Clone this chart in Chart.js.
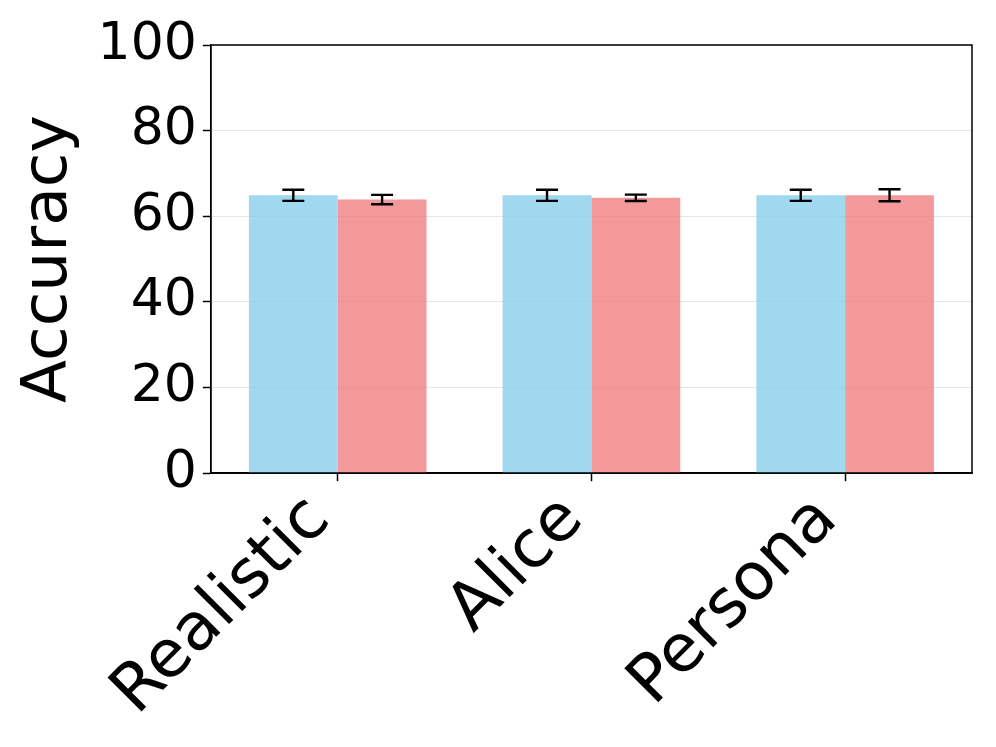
<!DOCTYPE html>
<html>
<head>
<meta charset="utf-8">
<script src="https://cdn.jsdelivr.net/npm/chart.js@4"></script>
<style>
  html, body { margin: 0; padding: 0; background: #fff; }
  #wrap { width: 996px; height: 747px; }
</style>
</head>
<body>
<div id="wrap"><canvas id="acc"></canvas></div>
<script>
const categories = ['Realistic', 'Alice', 'Persona'];
const blueValues = [64.9, 64.9, 64.9];
const blueErrors = [1.3, 1.3, 1.3];
const redValues = [63.9, 64.3, 64.9];
const redErrors = [1.1, 0.75, 1.4];
const yTicks = [0, 20, 40, 60, 80, 100];

const FONT = 'DejaVu Sans';

const errorBars = {
  id: 'errorBars',
  afterDatasetsDraw(chart) {
    const ctx = chart.ctx;
    const y = chart.scales.y;
    ctx.save();
    ctx.strokeStyle = '#000';
    ctx.lineWidth = 2.4;
    chart.data.datasets.forEach((ds, di) => {
      const meta = chart.getDatasetMeta(di);
      meta.data.forEach((bar, i) => {
        const v = ds.data[i], e = ds.errors[i];
        const top = y.getPixelForValue(v + e);
        const bot = y.getPixelForValue(v - e);
        const cap = 11;
        ctx.beginPath();
        ctx.moveTo(bar.x, top); ctx.lineTo(bar.x, bot);
        ctx.moveTo(bar.x - cap, top); ctx.lineTo(bar.x + cap, top);
        ctx.moveTo(bar.x - cap, bot); ctx.lineTo(bar.x + cap, bot);
        ctx.stroke();
      });
    });
    ctx.restore();
  }
};

const frame = {
  id: 'frame',
  afterDraw(chart) {
    const { ctx, chartArea: a } = chart;
    ctx.save();
    ctx.strokeStyle = '#000';
    ctx.lineWidth = 1.5;
    ctx.strokeRect(a.left, a.top, a.right - a.left, a.bottom - a.top);
    ctx.restore();
  }
};

new Chart(document.getElementById('acc'), {
  type: 'bar',
  data: {
    labels: categories,
    datasets: [{
      data: blueValues,
      errors: blueErrors,
      backgroundColor: 'rgba(135,206,235,0.8)',
      categoryPercentage: 0.7,
      barPercentage: 1.0
    }, {
      data: redValues,
      errors: redErrors,
      backgroundColor: 'rgba(240,128,128,0.8)',
      categoryPercentage: 0.7,
      barPercentage: 1.0
    }]
  },
  options: {
    responsive: true,
    maintainAspectRatio: false,
    animation: false,
    layout: { padding: { top: 45, right: 24, left: 8, bottom: 15 } },
    plugins: { legend: { display: false }, tooltip: { enabled: false } },
    scales: {
      x: {
        grid: { display: true, drawOnChartArea: false, offset: false, tickLength: 8, tickColor: '#000', tickWidth: 1.5 },
        border: { display: true, color: '#000', width: 1.5 },
        ticks: {
          maxRotation: 45, minRotation: 45,
          color: '#000', padding: 0, labelOffset: -18,
          font: { family: FONT, size: 66 }
        }
      },
      y: {
        min: 0, max: 100,
        afterBuildTicks(scale) { scale.ticks = yTicks.map(v => ({ value: v })); },
        grid: { color: '#e6e6e6', lineWidth: 1, tickLength: 8, tickColor: '#000', tickWidth: 1.5 },
        border: { display: true, color: '#000', width: 1.5 },
        ticks: { color: '#000', padding: 6, font: { family: FONT, size: 52 } },
        title: { display: true, text: 'Accuracy', color: '#000', padding: 4, font: { family: FONT, size: 63 } }
      }
    }
  },
  plugins: [errorBars, frame]
});
</script>
</body>
</html>
